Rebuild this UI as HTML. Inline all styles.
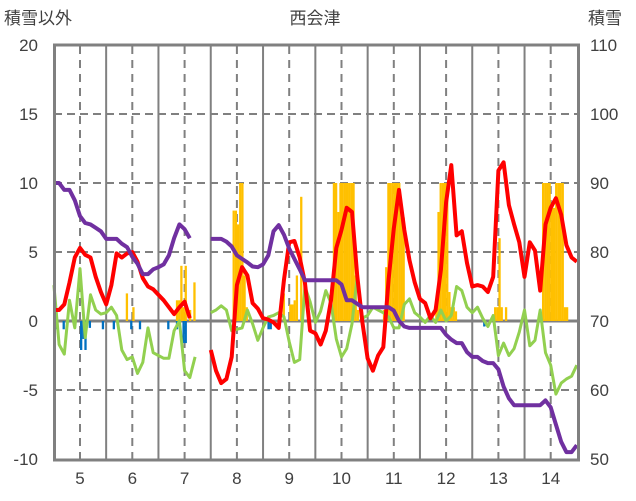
<!DOCTYPE html>
<html><head><meta charset="utf-8"><style>
body{margin:0;background:#fff;}
svg{display:block;font-family:"Liberation Sans","Noto Sans CJK JP",sans-serif;}
</style></head><body>
<svg id="c" width="636" height="501" viewBox="0 0 636 501">
<text x="315" y="24" font-size="17" text-anchor="middle" fill="#404040">西会津</text>
<text x="4" y="24" font-size="17" fill="#404040">積雪以外</text>
<text x="588" y="24" font-size="17" fill="#404040">積雪</text>
<g id="grid"></g><g id="bars"></g><g id="lines"></g><g id="labels"></g>
<rect x="54.5" y="45" width="524" height="415" fill="none" stroke="#808080" stroke-width="3"/>
</svg>
<script>
const xTicks=[5,6,7,8,9,10,11,12,13,14];
const leftTicks=[20,15,10,5,0,-5,-10];
const rightTicks=[110,100,90,80,70,60,50];
// samples every 0.1 day starting at day 4.5
const redVals=[0.8,0.8,1.2,2.8,4.6,5.3,4.8,4.6,3.2,2.1,1.2,2.6,4.9,4.6,4.9,5.0,4.3,3.1,2.5,2.3,1.9,1.5,1.0,0.5,1.0,1.4,0.2,null,null,null,-2.1,-3.6,-4.5,-4.2,-2.6,2.6,3.9,3.3,1.3,0.9,0.2,0.1,-0.1,-0.5,3.0,5.7,5.8,4.6,2.8,-0.7,-0.9,-1.7,-0.7,1.5,5.3,6.6,8.2,7.9,3.3,-0.1,-2.7,-3.6,-2.5,-1.9,3.0,6.7,9.5,6.6,4.4,2.8,1.6,1.3,0.2,0.8,3.7,8.6,11.3,6.2,6.5,4.2,2.5,2.6,2.5,2.1,3.2,10.9,11.5,8.4,7.0,5.7,3.2,5.7,5.1,2.2,7.0,8.2,8.9,7.7,5.5,4.6,4.3];
const greenVals=[2.6,-1.7,-2.4,1.5,-0.5,3.8,-1.2,1.9,0.8,0.5,0.6,1.0,0.4,-2.1,-2.8,-2.6,-3.8,-3.0,-0.5,-2.3,-2.5,-2.7,-2.7,-0.7,0,-3.6,-4.1,-2.6,null,null,0.6,0.8,1.1,0.8,-0.7,-0.6,-0.5,0.8,-0.2,-1.4,-0.5,0.3,0.4,0.6,0.3,-1.5,-3.0,-2.8,2.5,1.4,-0.1,0.7,2.2,1.3,-1.3,-2.6,-2.0,-0.2,3.2,0.2,0.4,1.0,0.8,0.6,0.3,-0.5,-0.5,1.2,1.6,0.6,0.3,-0.1,0.4,-0.1,0.8,0.0,0.4,2.5,2.2,1.0,0.6,1.0,0.2,-0.4,0.4,-2.5,-1.6,-2.5,-2.0,-0.8,0.8,-1.8,-1.4,0.8,-2.3,-3.2,-5.3,-4.5,-4.2,-4.0,-3.2];
const snowVals=[90,90,89,89,87.5,85.2,84.2,84,83.5,83,81.9,81.9,81.9,81.2,80.7,79.3,78.3,76.8,76.8,77.5,77.8,78.2,79.5,82,84,83.3,82,null,null,null,81.9,81.9,81.9,81.5,80.8,79.5,79,78.5,77.9,77.8,78.2,79.5,83,83.9,82.5,80.5,79,77.5,75.9,75.9,75.9,75.9,75.9,75.9,75.9,75.3,73,73,72.5,72,72,72,72,72,72,71.5,70,69.2,69,69,69,69,69,69,69,68,67.3,66.8,66.8,65.5,64.8,64.8,64.2,63.9,63.9,63,60.5,58.8,57.8,57.8,57.8,57.8,57.8,57.8,58.5,57.5,55,52.5,51,51,52];
// hourly bars: hour index since day 4.5
const posHours=[33,36,56,57,58,59,60,62,64,82,83,84,85,86,87,88,105,108,109,110,111,113,128,129,130,131,132,133,134,135,136,137,138,139,151,152,153,154,155,156,157,158,159,160,175,176,177,178,179,180,181,182,183,184,202,203,204,205,207,224,225,226,227,228,229,230,231,232,233,234,235];
const posVals=[2.0,1.0,1.5,1.5,4.0,1.0,4.0,0.8,2.8,8.0,8.0,7.0,10,10,3.3,1.0,2.0,1.2,1.2,1.5,3.3,9.0,10,10,7.9,10,10,10,10,10,10,10,3.3,0.8,0.8,3.9,10,10,10,10,10,10,7.5,7.5,1.0,7.9,10,10,10,10,2.1,1.0,1.0,0.7,1.0,1.0,6.0,1.0,1.0,10,10,10,10,8.2,8.2,10,10,10,10,1.0,1.0];
const negHours=[1,4,12,13,14,16,22,27,35,39,52,56,59,60,98,99,197];
const negVals=[-0.6,-0.6,-2.1,-1.3,-2.1,-0.5,-0.6,-0.6,-0.6,-0.6,-0.6,-0.6,-1.6,-1.6,-0.6,-0.6,-0.4];

const NS='http://www.w3.org/2000/svg';
const X=t=>80+(t-5)*52.3;
const YL=v=>321-v*13.8;
const YR=s=>321-(s-70)*6.9;
function mk(tag,attrs,parent){const e=document.createElementNS(NS,tag);for(const k in attrs)e.setAttribute(k,attrs[k]);document.getElementById(parent).appendChild(e);return e;}
// grid
leftTicks.forEach(v=>{
  if(v===20||v===-10)return;
  const l=mk('line',{x1:54,x2:578,y1:YL(v),y2:YL(v),stroke:'#808080','stroke-width':v===0?3:2,'stroke-dasharray':v===0?'none':'8,5'},'grid');
  
  
});
xTicks.forEach(d=>{
  const l=mk('line',{x1:X(d),x2:X(d),y1:46,y2:459,stroke:'#808080','stroke-width':2,'stroke-dasharray':'8,6'},'grid');
  
  
  if(d<14){const b=mk('line',{x1:X(d+0.5),x2:X(d+0.5),y1:46,y2:459,stroke:'#808080','stroke-width':2},'grid');
  
  }
  const t=mk('text',{x:X(d),y:484,'font-size':17,'text-anchor':'middle',fill:'#404040'},'labels');t.textContent=d;
  
  
});
leftTicks.forEach(v=>{const t=mk('text',{x:38,y:YL(v)+6,'font-size':17,'text-anchor':'end',fill:'#404040'},'labels');t.textContent=v;
  
  });
rightTicks.forEach(s=>{const t=mk('text',{x:590,y:YR(s)+6,'font-size':17,fill:'#404040'},'labels');t.textContent=s;
  
  });
// bars
const HT=h=>4.5+h/24;
posHours.forEach((h,i)=>{const v=posVals[i];const r=mk('rect',{x:X(HT(h)),y:YL(v),width:2.3,height:YL(0)-YL(v),fill:'#ffc000'},'bars');
  
  });
negHours.forEach((h,i)=>{const v=negVals[i];const r=mk('rect',{x:X(HT(h)),y:YL(0),width:2.3,height:YL(v)-YL(0),fill:'#0070c0'},'bars');
  
  });
// lines
function path(vals,ys){let d='',pen=false;vals.forEach((v,k)=>{if(v===null){pen=false;return;}const t=4.5+k*0.1;d+=(pen?'L':'M')+X(t).toFixed(1)+','+ys(v).toFixed(1);pen=true;});return d;}
const g=mk('path',{d:path(greenVals,YL),fill:'none',stroke:'#92d050','stroke-width':3,'stroke-linejoin':'round'},'lines');


const r=mk('path',{d:path(redVals,YL),fill:'none',stroke:'#ff0000','stroke-width':4,'stroke-linejoin':'round'},'lines');


const p=mk('path',{d:path(snowVals,YR),fill:'none',stroke:'#7030a0','stroke-width':4,'stroke-linejoin':'round'},'lines');


</script>
</body></html>
